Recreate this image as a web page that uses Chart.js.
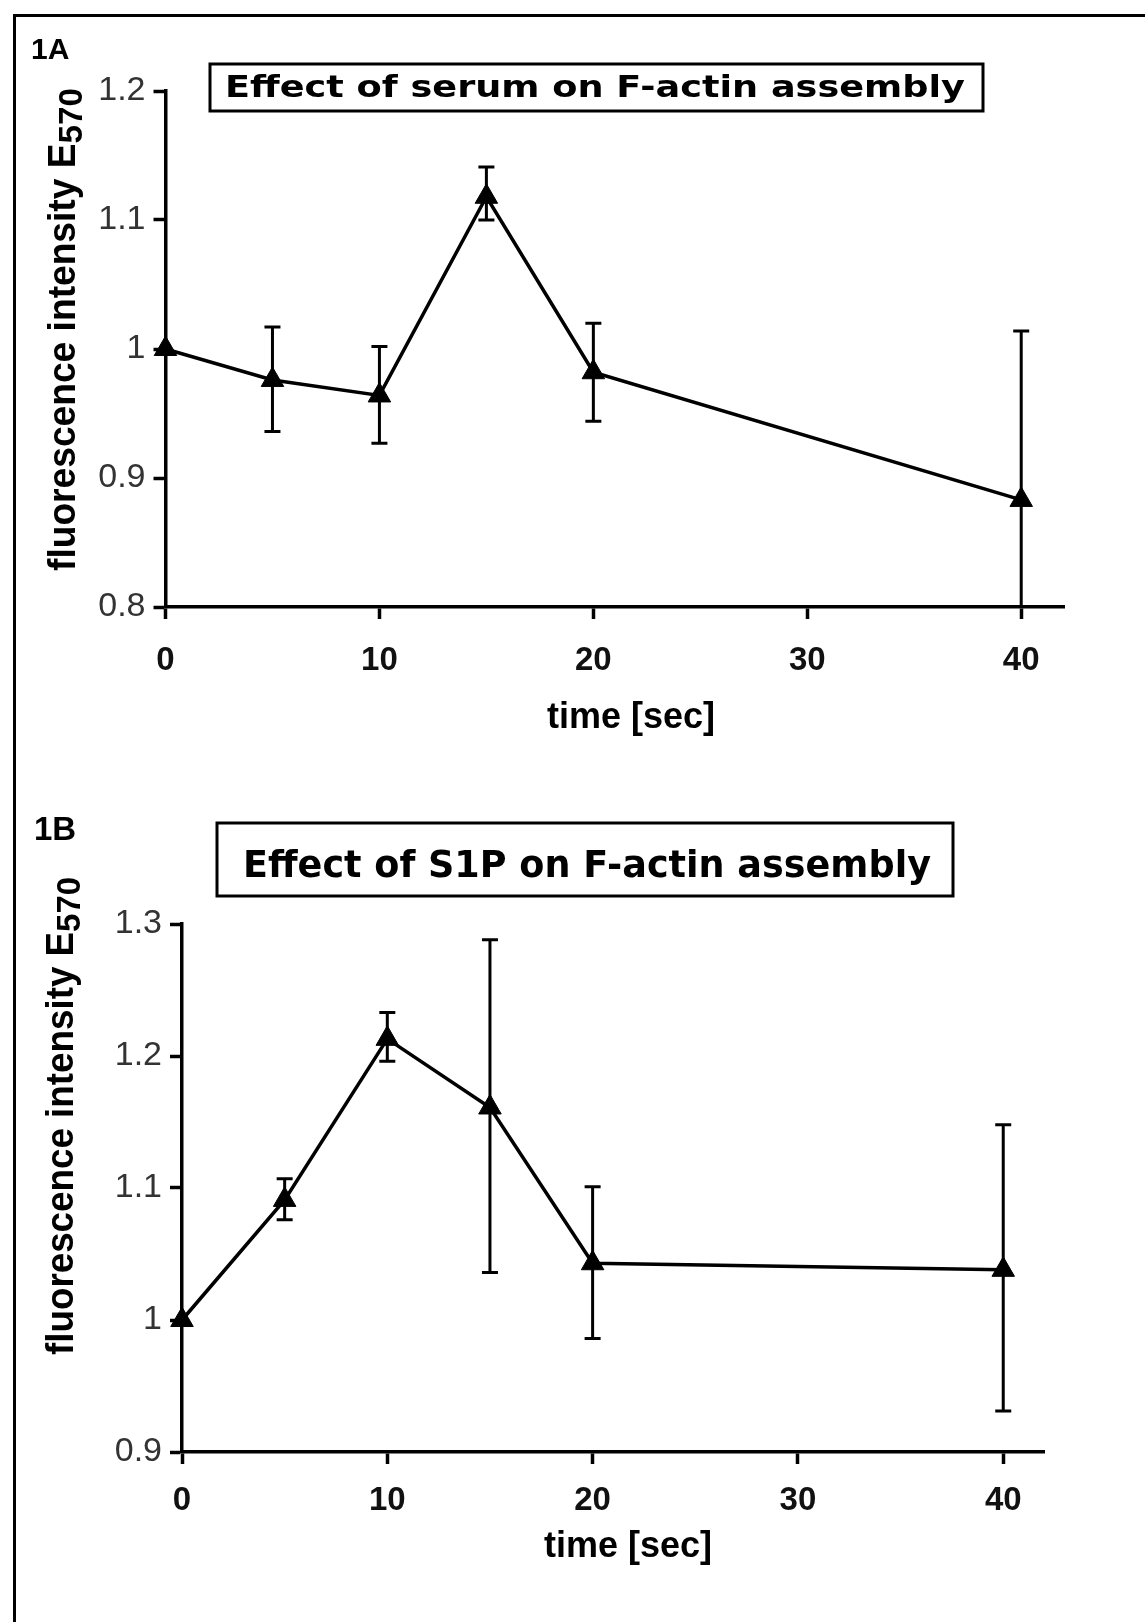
<!DOCTYPE html>
<html>
<head>
<meta charset="utf-8">
<script src="https://cdn.jsdelivr.net/npm/chart.js@4.4.1/dist/chart.umd.min.js"></script>
<style>
  body { margin: 0; background: #fff; }
  #page { position: relative; width: 1145px; height: 1622px; overflow: hidden; }
  #frame { position: absolute; left: 13px; top: 14px; width: 1200px; height: 1700px;
           border-top: 3px solid #000; border-left: 3px solid #000; }
  canvas { position: absolute; left: 0; }
  #chartA { top: 0; }
  #chartB { top: 780px; }
</style>
</head>
<body>
<div id="page">
  <div id="frame"></div>
  <canvas id="chartA" width="1145" height="780"></canvas>
  <canvas id="chartB" width="1145" height="842"></canvas>
</div>
<script>
// time points in seconds
const times = [0, 5, 10, 15, 20, 40];
const xTicks = [0, 10, 20, 30, 40];

// 1A: serum
const serumMean  = [1.000, 0.976, 0.964, 1.118, 0.982, 0.883];
const serumUpper = [1.000, 1.017, 1.002, 1.141, 1.020, 1.014];
const serumLower = [1.000, 0.936, 0.927, 1.100, 0.944, 0.752];

// 1B: S1P
const s1pMean  = [1.000, 1.091, 1.213, 1.161, 1.043, 1.038];
const s1pUpper = [1.000, 1.107, 1.233, 1.288, 1.101, 1.148];
const s1pLower = [1.000, 1.076, 1.196, 1.036, 0.986, 0.931];

const SANS = "'Liberation Sans', Arial, sans-serif";
const VERDANA = "'DejaVu Sans', Verdana, sans-serif";

function errorBars(upper, lower) {
  return {
    id: 'errorBars',
    beforeDatasetsDraw(chart) {
      const { ctx, chartArea, scales } = chart;
      ctx.save();
      ctx.beginPath();
      ctx.rect(0, 0, chart.width, chartArea.bottom);
      ctx.clip();
      ctx.strokeStyle = '#000';
      ctx.lineWidth = 3;
      upper.forEach((hi, i) => {
        const lo = lower[i];
        if (hi === lo) return;
        const px = scales.x.getPixelForValue(times[i]);
        const top = scales.y.getPixelForValue(hi);
        const bot = scales.y.getPixelForValue(lo);
        ctx.beginPath();
        ctx.moveTo(px, top);
        ctx.lineTo(px, bot);
        ctx.moveTo(px - 8, top);
        ctx.lineTo(px + 8, top);
        ctx.moveTo(px - 8, bot);
        ctx.lineTo(px + 8, bot);
        ctx.stroke();
      });
      ctx.restore();
    }
  };
}

// squeeze/stretch text horizontally so it fills a given width
function fitText(ctx, text, x, y, width) {
  const w = ctx.measureText(text).width;
  ctx.save();
  ctx.translate(x, y);
  ctx.scale(width / w, 1);
  ctx.fillText(text, 0, 0);
  ctx.restore();
}

function decorations(d) {
  return {
    id: 'decorations',
    afterDraw(chart) {
      const ctx = chart.ctx;
      ctx.save();
      ctx.fillStyle = '#000';
      ctx.strokeStyle = '#000';
      ctx.textAlign = 'left';
      ctx.textBaseline = 'alphabetic';

      // panel label
      ctx.font = `bold ${d.panelSize}px ${SANS}`;
      ctx.fillText(d.panel, d.panelX, d.panelY);

      // boxed title
      ctx.lineWidth = 3;
      ctx.strokeRect(d.box[0], d.box[1], d.box[2], d.box[3]);
      ctx.font = `bold ${d.titleSize}px ${VERDANA}`;
      fitText(ctx, d.title, d.titleX, d.titleY, d.titleW);

      // y axis title with subscript
      ctx.save();
      ctx.translate(d.yTitleX, d.yTitleY);
      ctx.rotate(-Math.PI / 2);
      ctx.font = `bold 38px ${SANS}`;
      const mainW = ctx.measureText('fluorescence intensity E').width;
      ctx.font = `bold 34px ${SANS}`;
      const subW = ctx.measureText('570').width;
      ctx.scale(d.yTitleLen / (mainW + subW), 1);
      ctx.font = `bold 38px ${SANS}`;
      ctx.fillText('fluorescence intensity E', 0, 0);
      ctx.font = `bold 34px ${SANS}`;
      ctx.fillText('570', mainW, 7);
      ctx.restore();

      // x axis title
      ctx.font = `bold 36px ${SANS}`;
      ctx.textAlign = 'center';
      ctx.textBaseline = 'middle';
      ctx.fillText('time [sec]', d.xTitleX, d.xTitleY);
      ctx.restore();
    }
  };
}

function makeChart(id, mean, upper, lower, s) {
  const ctx = document.getElementById(id).getContext('2d');
  return new Chart(ctx, {
    type: 'scatter',
    data: {
      datasets: [{
        data: times.map((t, i) => ({ x: t, y: mean[i] })),
        showLine: true,
        borderColor: '#000',
        borderWidth: 3.5,
        pointStyle: 'triangle',
        pointRadius: 13,
        pointBackgroundColor: '#000',
        pointBorderColor: '#000',
        pointBorderWidth: 1,
        clip: false
      }]
    },
    options: {
      responsive: false,
      animation: false,
      devicePixelRatio: 1,
      layout: { padding: { left: 0, top: s.top, right: s.right, bottom: 0 } },
      plugins: { legend: { display: false }, tooltip: { enabled: false } },
      scales: {
        x: {
          type: 'linear',
          min: 0,
          max: 42,
          afterFit: scale => { scale.height = s.xHeight; },
          afterBuildTicks: scale => { scale.ticks = xTicks.map(v => ({ value: v })); },
          grid: { drawOnChartArea: false, tickLength: 12, tickWidth: 3.5, tickColor: '#000' },
          border: { display: true, color: '#000', width: 3.5 },
          ticks: {
            padding: s.xPad,
            color: '#111',
            font: { family: SANS, size: 33, weight: 'bold' },
            maxRotation: 0
          }
        },
        y: {
          min: s.yMin,
          max: s.yMax,
          afterFit: scale => { scale.width = s.yWidth; },
          afterBuildTicks: scale => { scale.ticks = s.yTicks.map(v => ({ value: v })); },
          grid: { drawOnChartArea: false, tickLength: 12, tickWidth: 3.5, tickColor: '#000' },
          border: { display: true, color: '#000', width: 3.5 },
          ticks: {
            padding: 8,
            color: '#333',
            font: { family: SANS, size: 34 },
            callback: v => String(+v.toFixed(1))
          }
        }
      }
    },
    plugins: [errorBars(upper, lower), decorations(s.deco)]
  });
}

makeChart('chartA', serumMean, serumUpper, serumLower, {
  top: 91, right: 81, xHeight: 173, yWidth: 165.5, xPad: 22,
  yMin: 0.8, yMax: 1.2, yTicks: [0.8, 0.9, 1.0, 1.1, 1.2],
  deco: {
    panel: '1A', panelSize: 30, panelX: 31, panelY: 59,
    box: [210, 64, 773, 47],
    title: 'Effect of serum on F-actin assembly', titleSize: 30, titleX: 225, titleY: 97, titleW: 740,
    yTitleX: 75, yTitleY: 571, yTitleLen: 483,
    xTitleX: 631, xTitleY: 718
  }
});

makeChart('chartB', s1pMean, s1pUpper, s1pLower, {
  top: 144, right: 100.7, xHeight: 170, yWidth: 182, xPad: 17,
  yMin: 0.9, yMax: 1.3, yTicks: [0.9, 1.0, 1.1, 1.2, 1.3],
  deco: {
    panel: '1B', panelSize: 33, panelX: 34, panelY: 60,
    box: [217, 43, 736, 73],
    title: 'Effect of S1P on F-actin assembly', titleSize: 38, titleX: 243, titleY: 97, titleW: 688,
    yTitleX: 73, yTitleY: 575, yTitleLen: 478,
    xTitleX: 628, xTitleY: 767
  }
});
</script>
</body>
</html>
